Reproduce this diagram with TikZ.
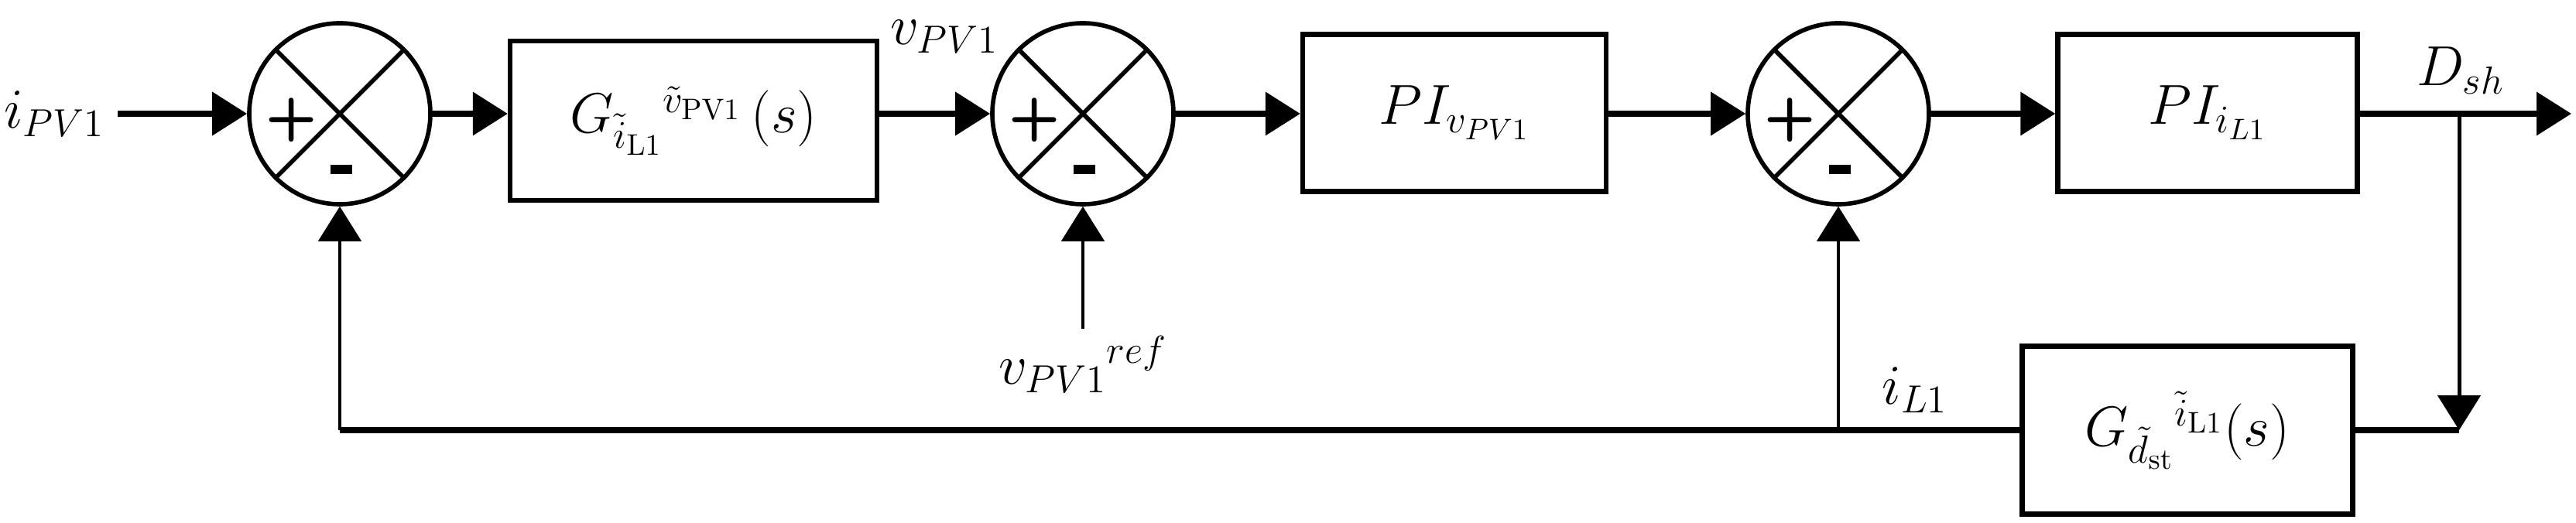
\documentclass[tikz,border=0pt]{standalone}
\usepackage{amsmath}
\usetikzlibrary{arrows.meta}
\tikzset{
    blk/.style={draw, line width=1.8pt, minimum height=2.03cm, inner sep=0pt},
    sum/.style={draw, circle, line width=1.6pt, minimum size=2.34cm, inner sep=0pt},
    sig/.style={line width=2pt, -{Triangle[length=0.45cm,width=0.55cm]}},
    wire/.style={line width=2pt},
    lbl/.style={font=\fontsize{21}{25}\selectfont}
}
\newcommand{\sumsigns}[1]{%
    \draw[line width=1.6pt] (#1.45) -- (#1.225) (#1.135) -- (#1.315);
    \node[font=\sffamily\bfseries\fontsize{22}{24}\selectfont] at ([xshift=-0.62cm,yshift=-0.08cm]#1.center) {+};
    \fill ([xshift=-0.12cm,yshift=-0.78cm]#1.center) rectangle ([xshift=0.16cm,yshift=-0.66cm]#1.center);
}
\begin{document}
\begin{tikzpicture}
    \useasboundingbox (0,0) rectangle (33.28,6.76);

    % Summing junctions
    \node[sum] (sumA) at (4.39,5.29) {};
    \node[sum] (sumB) at (13.99,5.29) {};
    \node[sum] (sumC) at (23.75,5.29) {};
    \sumsigns{sumA}
    \sumsigns{sumB}
    \sumsigns{sumC}

    % Blocks
    \node[blk, minimum width=4.74cm, minimum height=2.06cm, lbl] (boxG) at (8.96,5.20)
        {$G_{\tilde{i}_{\mathrm{L1}}}{}^{\tilde{v}_{\mathrm{PV1}}}\,(s)$};
    \node[blk, minimum width=3.92cm, lbl] (boxPIv) at (18.79,5.30) {$PI_{v_{PV1}}$};
    \node[blk, minimum width=3.87cm, lbl] (boxPIi) at (28.52,5.30) {$PI_{i_{L1}}$};
    \node[blk, minimum width=4.27cm, minimum height=2.17cm, lbl] (boxGd) at (28.26,1.20)
        {$G_{\tilde{d}_{\mathrm{st}}}{}^{\tilde{i}_{\mathrm{L1}}}(s)$};

    % Free ends
    \coordinate (in) at (1.52,5.29);
    \coordinate (out) at (33.22,5.29);
    \coordinate (branch) at (31.77,5.29);
    \coordinate (branchlow) at (31.77,1.20);
    \coordinate (junc) at (23.75,1.20);
    \coordinate (corner) at (4.39,1.20);
    \coordinate (vref) at (13.99,2.51);

    % Labels
    \node[lbl] (lin) at (0.70,5.29) {$i_{PV1}$};
    \node[lbl] (lv) at (12.20,6.29) {$v_{PV1}$};
    \node[lbl] (lref) at (13.99,2.05) {$v_{PV1}{}^{ref}$};
    \node[lbl] (ld) at (31.79,5.85) {$D_{sh}$};
    \node[lbl] (li) at (24.74,1.72) {$i_{L1}$};

    % Forward path
    \draw[sig] (in) -- (sumA.west);
    \draw[sig] (sumA.east) -- (boxG.west |- sumA);
    \draw[sig] (boxG.east |- sumB) -- (sumB.west);
    \draw[sig] (sumB.east) -- (boxPIv.west |- sumB);
    \draw[sig] (boxPIv.east |- sumC) -- (sumC.west);
    \draw[sig] (sumC.east) -- (boxPIi.west |- sumC);
    \draw[sig] (boxPIi.east |- out) -- (out);
    \draw[sig, line width=1.4pt] (vref) -- (sumB.south);

    % Feedback path
    \draw[sig, line width=1.4pt] (branch) -- (branchlow);
    \draw[wire] (boxGd.east) -- (branchlow);
    \draw[wire] (boxGd.west) -- (junc) -- (corner);
    \draw[sig, line width=1.4pt] (corner) -- (sumA.south);
    \draw[sig, line width=1.4pt] (junc) -- (sumC.south);
\end{tikzpicture}
\end{document}
